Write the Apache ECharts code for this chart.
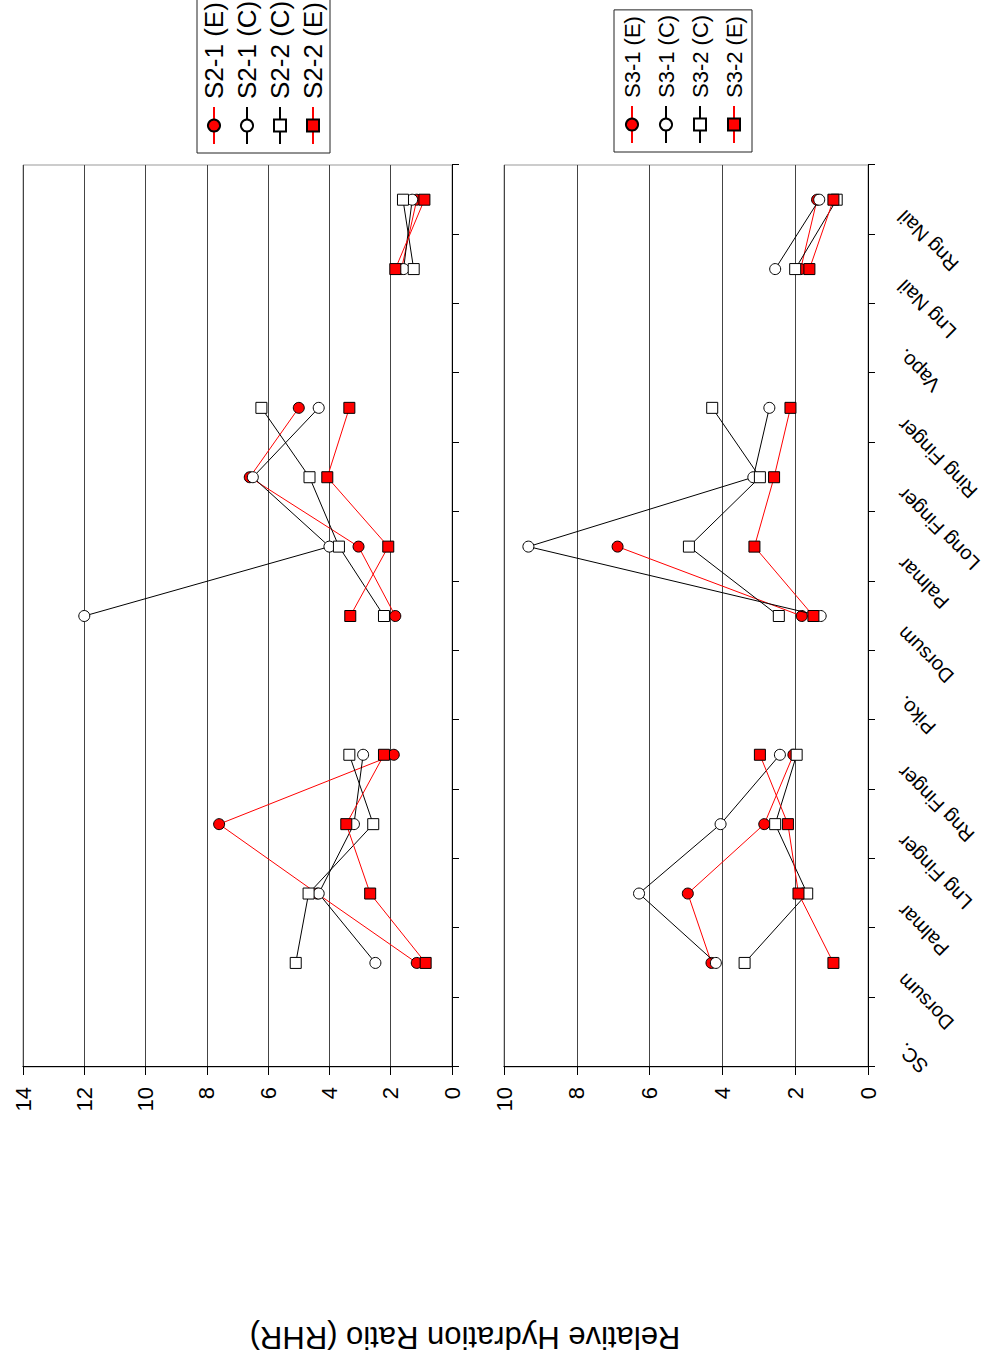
<!DOCTYPE html>
<html>
<head>
<meta charset="utf-8">
<script src="https://cdn.jsdelivr.net/npm/echarts@6/dist/echarts.min.js"></script>
<style>
html,body{margin:0;padding:0;width:991px;height:1361px;overflow:hidden;background:#fff;}
#chart{position:absolute;left:0;top:0;width:1361px;height:991px;transform-origin:0 0;transform:translateY(1361px) rotate(-90deg);}
</style>
</head>
<body>
<div id="chart"></div>
<script>
// ---- data ----
const categories = ['SC.', 'Dorsum', 'Palmar', 'Lng Finger', 'Rng Finger', 'Piko.', 'Dorsum', 'Palmar', 'Long Finger', 'Ring Finger', 'Vapo.', 'Lng Nail', 'Rng Nail'];

const s2Names = ['S2-1 (E)', 'S2-1 (C)', 'S2-2 (C)', 'S2-2 (E)'];
const s3Names = ['S3-1 (E)', 'S3-1 (C)', 'S3-2 (C)', 'S3-2 (E)'];

const s2_1E = [null, 1.15, 4.4, 7.6, 1.9, null, 1.85, 3.05, 6.6, 5.0, null, 1.65, 1.15];
const s2_1C = [null, 2.5, 4.35, 3.2, 2.9, null, 12.0, 4.0, 6.5, 4.35, null, 1.58, 1.3];
const s2_2C = [null, 5.1, 4.68, 2.57, 3.35, null, 2.22, 3.69, 4.65, 6.22, null, 1.25, 1.6];
const s2_2E = [null, 0.86, 2.67, 3.45, 2.22, null, 3.32, 2.08, 4.07, 3.35, null, 1.85, 0.9];

const s3_1E = [null, 4.3, 4.95, 2.85, 2.05, null, 1.82, 6.88, null, null, null, 1.85, 1.4];
const s3_1C = [null, 4.18, 6.29, 4.05, 2.42, null, 1.3, 9.33, 3.15, 2.71, null, 2.55, 1.34];
const s3_2C = [null, 3.39, 1.67, 2.55, 1.96, null, 2.45, 4.92, 2.97, 4.28, null, 2.0, 0.86];
const s3_2E = [null, 0.95, 1.91, 2.2, 2.97, null, 1.5, 3.12, 2.58, 2.13, null, 1.61, 0.95];

const s2Ticks = [0, 2, 4, 6, 8, 10, 12, 14];
const s3Ticks = [0, 2, 4, 6, 8, 10];
const yTitle = 'Relative Hydration Ratio (RHR)';

// ---- styles ----
const FONT = '"Liberation Sans", Arial, Helvetica, sans-serif';
const looks = [
  {symbol: 'circle', fill: '#ff0000', line: '#ff0000'},
  {symbol: 'circle', fill: '#ffffff', line: '#000000'},
  {symbol: 'rect',   fill: '#ffffff', line: '#000000'},
  {symbol: 'rect',   fill: '#ff0000', line: '#ff0000'}
];

function makeSeries(names, datas, g) {
  return names.map((n, i) => ({
    type: 'line',
    name: n,
    data: datas[i],
    xAxisIndex: g,
    yAxisIndex: g,
    symbol: looks[i].symbol,
    symbolSize: 11,
    showSymbol: true,
    showAllSymbol: true,
    connectNulls: false,
    z: 2 + i,
    itemStyle: {color: looks[i].fill, borderColor: '#000', borderWidth: 1, opacity: 1},
    lineStyle: {color: looks[i].line, width: 1},
    emphasis: {disabled: true},
    animation: false
  }));
}

function catAxis(g, showLabels) {
  return {
    type: 'category',
    gridIndex: g,
    data: categories,
    boundaryGap: true,
    axisLine: {show: true, lineStyle: {color: '#000', width: 1}},
    axisTick: {show: true, inside: false, length: 7, interval: 0, lineStyle: {color: '#000'}},
    axisLabel: showLabels ? {
      show: true, interval: 0, rotate: 45, fontSize: 20, fontFamily: FONT, color: '#000',
      margin: 47, align: 'right', verticalAlign: 'bottom', padding: [0, 0, 10, 0], lineHeight: 20
    } : {show: false},
    splitLine: {show: false}
  };
}

function valAxis(g, ticks) {
  return {
    type: 'value',
    gridIndex: g,
    min: ticks[0],
    max: ticks[ticks.length - 1],
    interval: ticks[1] - ticks[0],
    axisLine: {show: true, lineStyle: {color: '#000', width: 1}},
    axisTick: {show: true, inside: false, length: 8, lineStyle: {color: '#000'}},
    axisLabel: {show: true, fontSize: 22, fontFamily: FONT, color: '#000', margin: 20},
    splitLine: {show: true, lineStyle: {color: '#444', width: 1}}
  };
}

function legendFor(names, left, top, fs, gap, pad) {
  return {
    show: true,
    data: names,
    orient: 'vertical',
    left: left,
    top: top,
    padding: pad,
    itemGap: gap,
    itemWidth: 37,
    itemHeight: 15,
    borderColor: '#222',
    borderWidth: 1,
    backgroundColor: '#fff',
    selectedMode: false,
    textStyle: {fontSize: fs, lineHeight: fs, fontFamily: FONT, color: '#000', padding: [0, 0, 0, 3]}
  };
}

const chart = echarts.init(document.getElementById('chart'), null, {renderer: 'svg'});
chart.setOption({
  animation: false,
  backgroundColor: '#fff',
  textStyle: {fontFamily: FONT},
  grid: [
    {left: 294, top: 23, width: 902, height: 429, show: true, borderColor: '#999', borderWidth: 1, backgroundColor: 'transparent', containLabel: false, outerBoundsMode: 'none'},
    {left: 294, top: 504, width: 902, height: 364, show: true, borderColor: '#999', borderWidth: 1, backgroundColor: 'transparent', containLabel: false, outerBoundsMode: 'none'}
  ],
  xAxis: [catAxis(0, false), catAxis(1, true)],
  yAxis: [valAxis(0, s2Ticks), valAxis(1, s3Ticks)],
  legend: [
    legendFor(s2Names, 1208, 197, 26, 7, [4, 10, 4, 8]),
    legendFor(s3Names, 1209, 614, 22, 12, [7, 5, 7, 8])
  ],
  graphic: [{
    type: 'text',
    x: 24,
    y: 465,
    rotation: Math.PI / 2,
    style: {text: yTitle, fontSize: 31, fontFamily: FONT, fill: '#000', textAlign: 'center', textVerticalAlign: 'middle'}
  }],
  series: [].concat(
    makeSeries(s2Names, [s2_1E, s2_1C, s2_2C, s2_2E], 0),
    makeSeries(s3Names, [s3_1E, s3_1C, s3_2C, s3_2E], 1)
  )
});
</script>
</body>
</html>
